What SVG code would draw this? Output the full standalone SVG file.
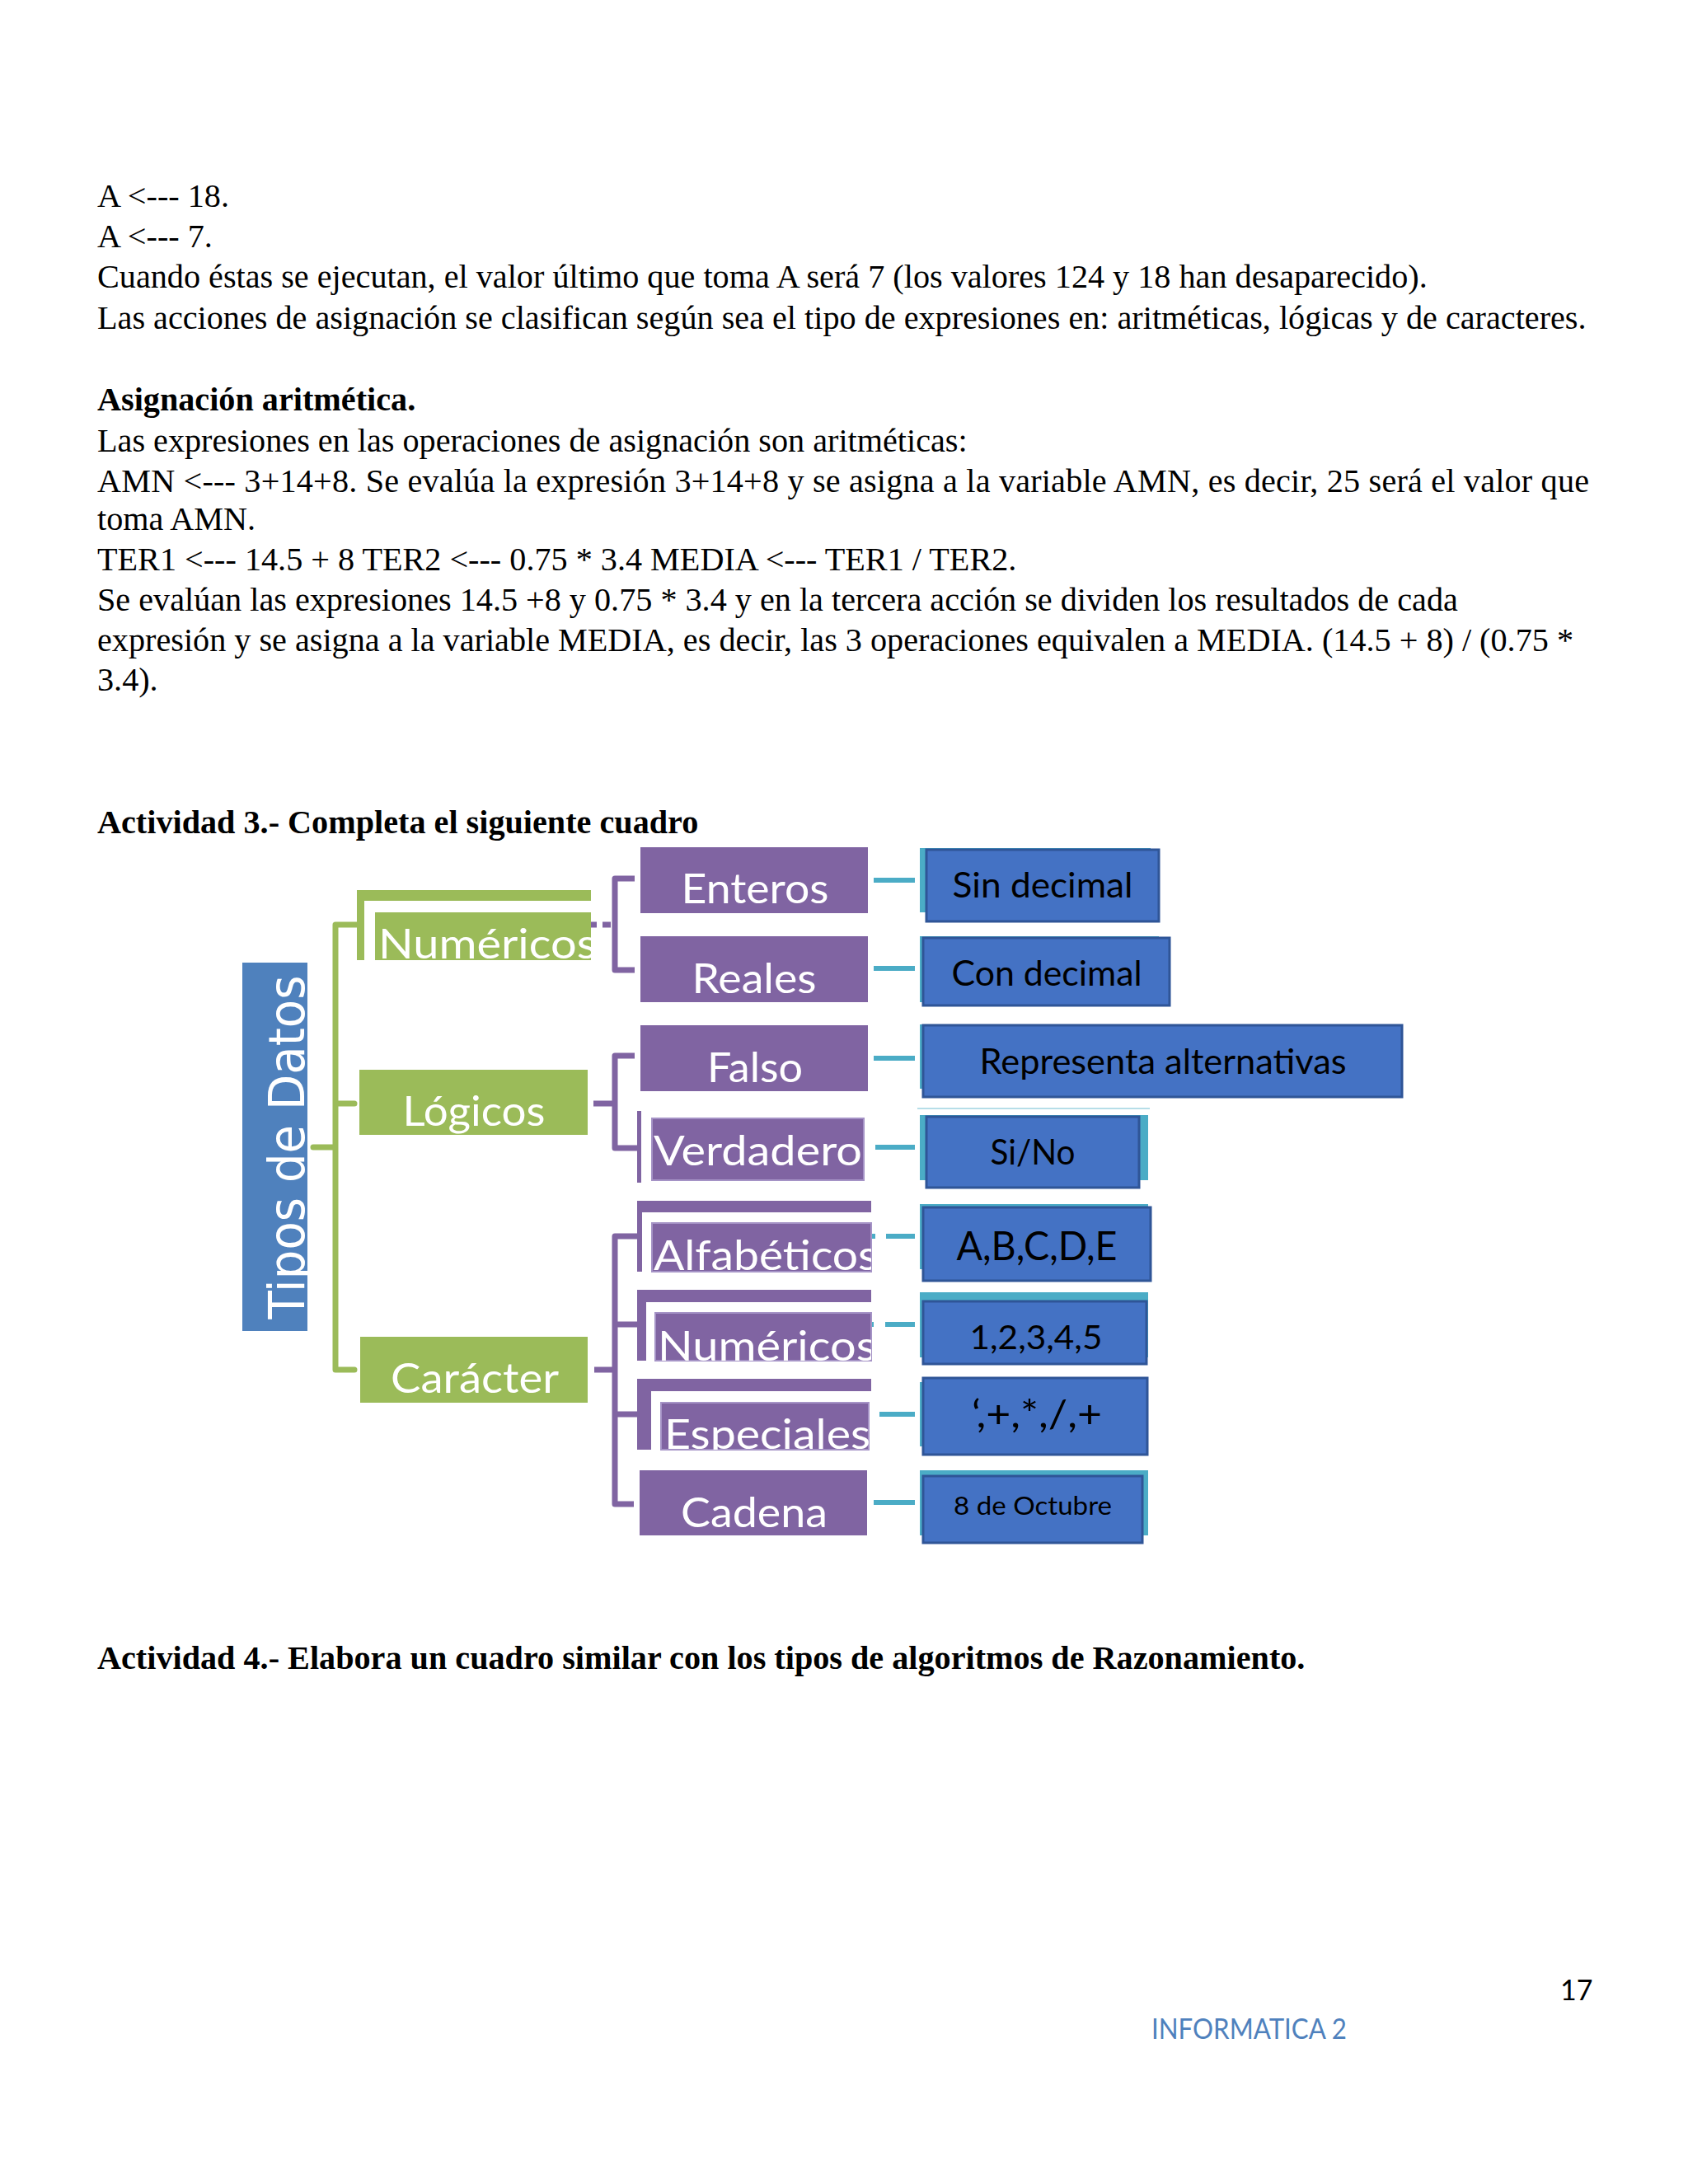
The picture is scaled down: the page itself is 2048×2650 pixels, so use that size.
<svg xmlns="http://www.w3.org/2000/svg" width="2048" height="2650" viewBox="0 0 2048 2650">
<style>
.body{font-family:"Liberation Serif","Times New Roman",serif;font-size:40.2px;fill:#000}
.bold{font-weight:bold}
.lbl{font-family:Lato,"Liberation Sans",sans-serif;fill:#fff;font-size:50px}
.res{font-family:Lato,"Liberation Sans",sans-serif;fill:#000;text-anchor:middle}
.green{fill:#9BBB59}
.purple{fill:#8064A2}
.purple-in{fill:#8064A2;stroke:#A593C6;stroke-width:2}
.rbox{fill:#4472C4;stroke:#2F5597;stroke-width:3}
.rback{fill:#4BACC6}
.gline{stroke:#9BBB59;stroke-width:7;fill:none;stroke-linejoin:round;stroke-linecap:round}
.pline{stroke:#8064A2;stroke-width:7;fill:none;stroke-linejoin:round}
.cline{stroke:#4BACC6;stroke-width:6;fill:none}
</style>
<defs>
<clipPath id="c-num"><rect x="455" y="1100" width="262" height="65"/></clipPath>
<clipPath id="c-alf"><rect x="791" y="1478" width="266" height="65"/></clipPath>
<clipPath id="c-num2"><rect x="795" y="1586" width="262" height="65"/></clipPath>
<clipPath id="c-esp"><rect x="802" y="1695" width="252" height="64"/></clipPath>
</defs>
<rect width="2048" height="2650" fill="#fff"/>

<g id="text-body">
<text class="body" x="118" y="251">A &lt;--- 18.</text>
<text class="body" x="118" y="300">A &lt;--- 7.</text>
<text class="body" x="118" y="349">Cuando éstas se ejecutan, el valor último que toma A será 7 (los valores 124 y 18 han desaparecido).</text>
<text class="body" x="118" y="399">Las acciones de asignación se clasifican según sea el tipo de expresiones en: aritméticas, lógicas y de caracteres.</text>
<text class="body bold" x="118" y="498">Asignación aritmética.</text>
<text class="body" x="118" y="548">Las expresiones en las operaciones de asignación son aritméticas:</text>
<text class="body" x="118" y="597" textLength="1810" lengthAdjust="spacing">AMN &lt;--- 3+14+8. Se evalúa la expresión 3+14+8 y se asigna a la variable AMN, es decir, 25 será el valor que</text>
<text class="body" x="118" y="643">toma AMN.</text>
<text class="body" x="118" y="692">TER1 &lt;--- 14.5 + 8 TER2 &lt;--- 0.75 * 3.4 MEDIA &lt;--- TER1 / TER2.</text>
<text class="body" x="118" y="741">Se evalúan las expresiones 14.5 +8 y 0.75 * 3.4 y en la tercera acción se dividen los resultados de cada</text>
<text class="body" x="118" y="790">expresión y se asigna a la variable MEDIA, es decir, las 3 operaciones equivalen a MEDIA. (14.5 + 8) / (0.75 *</text>
<text class="body" x="118" y="838">3.4).</text>
<text class="body bold" x="118" y="1011">Actividad 3.- Completa el siguiente cuadro</text>
<text class="body bold" x="118" y="2025">Actividad 4.- Elabora un cuadro similar con los tipos de algoritmos de Razonamiento.</text>
</g>

<g id="connectors">
<path class="gline" d="M380 1392 H407 M407 1122 V1662 M407 1122 H433 M407 1339 H430 M407 1662 H430"/>
<path class="pline" d="M717 1122 H724 M731 1122 H741" />
<path class="pline" d="M770 1066 H746 V1177 H770"/>
<path class="pline" d="M720 1339 H746 M770 1281 H746 V1393 H774"/>
<path class="pline" d="M721 1662 H746 M773 1500 H746 V1825 H769 M746 1607 H773 M746 1716 H773"/>
<path class="cline" d="M1060 1068 H1110 M1060 1175 H1110 M1060 1284 H1110 M1062 1392 H1110 M1067 1716 H1110 M1060 1823 H1110"/>
<path class="cline" d="M1055 1500 H1062 M1075 1500 H1110 M1055 1607 H1060 M1074 1607 H1110"/>
<path d="M1113 1345 H1395" stroke="#9ED3E0" stroke-width="1.5"/>
</g>

<g id="n-tipos">
<rect x="294" y="1168" width="79" height="447" fill="#4F81BD"/>
<text transform="translate(369,1392) rotate(-90)" text-anchor="middle" font-family="'DejaVu Sans',sans-serif" font-size="60" fill="#fff" textLength="417" lengthAdjust="spacingAndGlyphs">Tipos de Datos</text>
</g>

<g id="n-numericos">
<rect class="green" x="433" y="1080" width="284" height="13"/>
<rect class="green" x="433" y="1080" width="9" height="85"/>
<rect class="green" x="455" y="1107" width="262" height="58"/>
<text class="lbl" x="459" y="1163" textLength="265" lengthAdjust="spacingAndGlyphs" clip-path="url(#c-num)">Numéricos</text>
</g>

<g id="n-logicos">
<rect class="green" x="436" y="1298" width="277" height="79"/>
<text class="lbl" x="575" y="1366" text-anchor="middle" textLength="173" lengthAdjust="spacingAndGlyphs">Lógicos</text>
</g>

<g id="n-caracter">
<rect class="green" x="437" y="1622" width="276" height="80"/>
<text class="lbl" x="576" y="1690" text-anchor="middle" textLength="204" lengthAdjust="spacingAndGlyphs">Carácter</text>
</g>

<g id="n-enteros">
<rect class="purple" x="777" y="1028" width="276" height="80"/>
<text class="lbl" x="916" y="1096" text-anchor="middle" textLength="179" lengthAdjust="spacingAndGlyphs">Enteros</text>
</g>

<g id="n-reales">
<rect class="purple" x="777" y="1136" width="276" height="80"/>
<text class="lbl" x="915" y="1205" text-anchor="middle" textLength="151" lengthAdjust="spacingAndGlyphs">Reales</text>
</g>

<g id="n-falso">
<rect class="purple" x="777" y="1244" width="276" height="80"/>
<text class="lbl" x="916" y="1313" text-anchor="middle" textLength="116" lengthAdjust="spacingAndGlyphs">Falso</text>
</g>

<g id="n-verdadero">
<rect class="purple" x="773" y="1348" width="5" height="87"/>
<rect class="purple-in" x="791" y="1357" width="257" height="75"/>
<text class="lbl" x="793" y="1414" textLength="253" lengthAdjust="spacingAndGlyphs">Verdadero</text>
</g>

<g id="n-alfabeticos">
<rect class="purple" x="773" y="1457" width="284" height="14"/>
<rect class="purple" x="773" y="1457" width="6" height="86"/>
<rect class="purple-in" x="791" y="1484" width="266" height="59"/>
<text class="lbl" x="793" y="1541" textLength="272" lengthAdjust="spacingAndGlyphs" clip-path="url(#c-alf)">Alfabéticos</text>
</g>

<g id="n-numericos2">
<rect class="purple" x="773" y="1565" width="284" height="15"/>
<rect class="purple" x="773" y="1565" width="11" height="86"/>
<rect class="purple-in" x="795" y="1593" width="262" height="58"/>
<text class="lbl" x="798" y="1651" textLength="265" lengthAdjust="spacingAndGlyphs" clip-path="url(#c-num2)">Numéricos</text>
</g>

<g id="n-especiales">
<rect class="purple" x="773" y="1673" width="284" height="15"/>
<rect class="purple" x="773" y="1673" width="17" height="86"/>
<rect class="purple-in" x="802" y="1702" width="252" height="57"/>
<text class="lbl" x="806" y="1758" textLength="250" lengthAdjust="spacingAndGlyphs" clip-path="url(#c-esp)">Especiales</text>
</g>

<g id="n-cadena">
<rect class="purple" x="776" y="1784" width="276" height="79"/>
<text class="lbl" x="915" y="1853" text-anchor="middle" textLength="178" lengthAdjust="spacingAndGlyphs">Cadena</text>
</g>

<g id="r-sin-decimal">
<rect class="rback" x="1116" y="1029" width="280" height="78"/>
<rect class="rbox" x="1124" y="1031" width="282" height="87"/>
<text class="res" x="1265" y="1089" font-size="42" textLength="219" lengthAdjust="spacingAndGlyphs">Sin decimal</text>
</g>

<g id="r-con-decimal">
<rect class="rback" x="1116" y="1136" width="290" height="80"/>
<rect class="rbox" x="1120" y="1138" width="299" height="82"/>
<text class="res" x="1270" y="1196" font-size="42" textLength="231" lengthAdjust="spacingAndGlyphs">Con decimal</text>
</g>

<g id="r-representa">
<rect class="rback" x="1116" y="1243" width="300" height="78"/>
<rect class="rbox" x="1120" y="1244" width="581" height="87"/>
<text class="res" x="1411" y="1303" font-size="42" textLength="445" lengthAdjust="spacingAndGlyphs">Representa alternativas</text>
</g>

<g id="r-si-no">
<rect class="rback" x="1116" y="1353" width="277" height="79"/>
<rect class="rbox" x="1124" y="1355" width="258" height="86"/>
<text class="res" x="1253" y="1413" font-size="42" textLength="103" lengthAdjust="spacingAndGlyphs">Si/No</text>
</g>

<g id="r-abcde">
<rect class="rback" x="1116" y="1461" width="277" height="79"/>
<rect class="rbox" x="1120" y="1465" width="276" height="89"/>
<text class="res" x="1258" y="1529" font-size="48" textLength="195" lengthAdjust="spacingAndGlyphs">A,B,C,D,E</text>
</g>

<g id="r-12345">
<rect class="rback" x="1116" y="1568" width="277" height="79"/>
<rect class="rbox" x="1120" y="1579" width="271" height="76"/>
<text class="res" x="1257" y="1637" font-size="40" textLength="161" lengthAdjust="spacingAndGlyphs">1,2,3,4,5</text>
</g>

<g id="r-especiales">
<rect class="rback" x="1116" y="1677" width="60" height="78"/>
<rect class="rbox" x="1120" y="1672" width="272" height="93"/>
<text class="res" x="1258" y="1732" font-size="46" textLength="158" lengthAdjust="spacingAndGlyphs">‘,+,*,/,+</text>
</g>

<g id="r-octubre">
<rect class="rback" x="1116" y="1784" width="277" height="79"/>
<rect class="rbox" x="1120" y="1791" width="266" height="81"/>
<text class="res" x="1253" y="1838" font-size="30" textLength="192" lengthAdjust="spacingAndGlyphs">8 de Octubre</text>
</g>

<g id="footer">
<text x="1893" y="2427" font-family="Lato,'Liberation Sans',sans-serif" font-size="34" fill="#000">17</text>
<text x="1397" y="2474" font-family="Lato,'Liberation Sans',sans-serif" font-size="35" fill="#4F81BD" textLength="237" lengthAdjust="spacingAndGlyphs">INFORMATICA 2</text>
</g>
</svg>
